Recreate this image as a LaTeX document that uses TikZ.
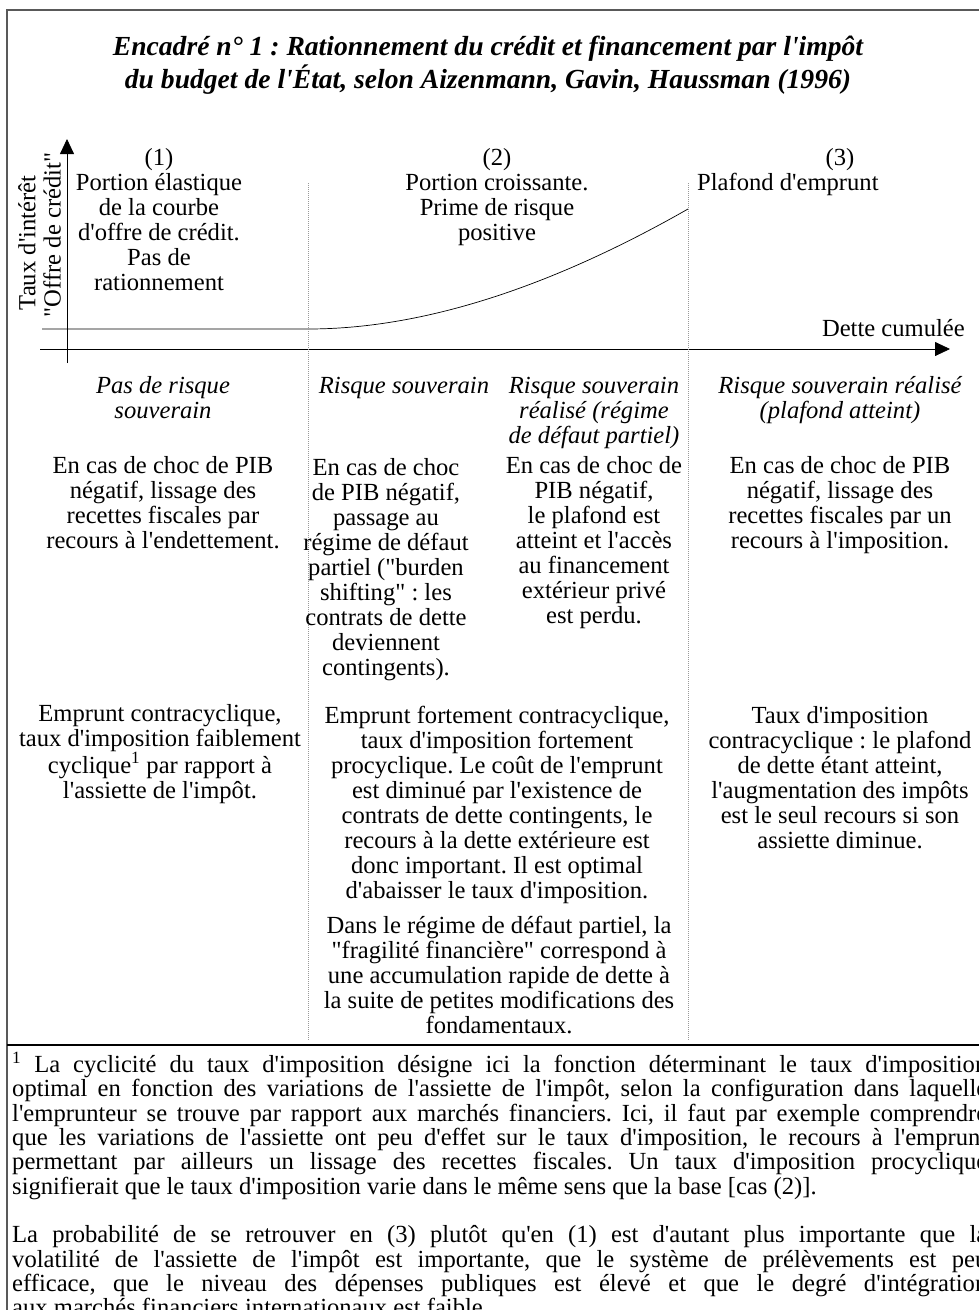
\documentclass[tikz,border=0pt]{standalone}
\usepackage{fontspec}
\setmainfont{Liberation Serif}[Ligatures={TeXOff,CommonOff}]
\usetikzlibrary{arrows.meta}
\begin{document}
\frenchspacing
\begin{tikzpicture}[x=1pt,y=-1pt,
  txt/.style={align=center,inner sep=0pt,anchor=base,font=\fontsize{24.6}{25}\selectfont\frenchspacing},
  itxt/.style={align=center,inner sep=0pt,anchor=base,font=\fontsize{24.6}{25}\selectfont\itshape},
  ttl/.style={align=center,inner sep=0pt,anchor=base,font=\fontsize{27.6}{32.5}\selectfont\bfseries\itshape},
  rot/.style={inner sep=0pt,rotate=90,font=\fontsize{24.6}{25}\selectfont},
  sepline/.style={gray!80,line width=0.8pt,dash pattern=on 1pt off 1pt},
  axis/.style={line width=0.8pt,-{Triangle[length=15pt,width=14pt]}},
  frame/.style={line width=1.5pt,gray!70!black},
]
\useasboundingbox[fill=white] (0,0) rectangle (978,1310);
% frame
\draw[frame] (7,1320) -- (7,10) -- (995,10);
\draw[line width=1.3pt] (7,1045) -- (990,1045);

% title (anchor = baseline of last line)
\node[ttl] (title) at (488,88) {Encadré n° 1 : Rationnement du crédit et financement par l'impôt\\du budget de l'État, selon Aizenmann, Gavin, Haussman (1996)};

% axes
\coordinate (yb) at (67,363);
\coordinate (yt) at (67,139);
\coordinate (xl) at (40,349);
\coordinate (xr) at (950,349);
\draw[axis] (yb) -- (yt);
\draw[axis] (xl) -- (xr);
\node[rot] (ylab1) at (27,243) {Taux d'intérêt};
\node[rot] (ylab2) at (52,235) {"Offre de crédit"};
\node[txt,anchor=base east] (xlab) at (965,336) {Dette cumulée};

% curve
\coordinate (c0) at (42,329);
\coordinate (c1) at (308,329);
\coordinate (c2) at (688,209);
\draw[line width=0.7pt] (c0) -- (c1) .. controls (430,329) and (560,282) .. (c2);

% dotted separators
\coordinate (d1t) at (308,183);
\coordinate (d1b) at (308,1040);
\coordinate (d2t) at (688,183);
\coordinate (d2b) at (688,1040);
\draw[sepline] (d1t) -- (d1b);
\draw[sepline] (d2t) -- (d2b);

% top texts
\node[txt] (p1) at (159,290) {(1)\\Portion élastique\\de la courbe\\d'offre de crédit.\\Pas de\\rationnement};
\node[txt] (p2) at (497,240) {(2)\\Portion croissante.\\Prime de risque\\positive};
\node[txt] (p3) at (840,165) {(3)};
\node[txt,anchor=base west] (p3b) at (697,190) {Plafond d'emprunt};

% italic headers
\node[itxt] (h1) at (163,418) {Pas de risque\\souverain};
\node[itxt] (h2) at (404,393) {Risque souverain};
\node[itxt] (h3) at (594,443) {Risque souverain\\réalisé (régime\\de défaut partiel)};
\node[itxt] (h4) at (840,418) {Risque souverain réalisé\\(plafond atteint)};

% situation texts
\node[txt] (b1) at (163,548) {En cas de choc de PIB\\négatif, lissage des\\recettes fiscales par\\recours à l'endettement.};
\node[txt] (b2) at (386,675) {En cas de choc\\de PIB négatif,\\passage au\\régime de défaut\\partiel ("burden\\shifting" : les\\contrats de dette\\deviennent\\contingents).};
\node[txt] (b3) at (594,623) {En cas de choc de\\PIB négatif,\\le plafond est\\atteint et l'accès\\au financement\\extérieur privé\\est perdu.};
\node[txt] (b4) at (840,548) {En cas de choc de PIB\\négatif, lissage des\\recettes fiscales par un\\recours à l'imposition.};

% policy texts
\node[txt] (l1) at (160,798) {Emprunt contracyclique,\\taux d'imposition faiblement\\cyclique\textsuperscript{1} par rapport à\\l'assiette de l'impôt.};
\node[txt] (l2) at (497,898) {Emprunt fortement contracyclique,\\taux d'imposition fortement\\procyclique. Le coût de l'emprunt\\est diminué par l'existence de\\contrats de dette contingents, le\\recours à la dette extérieure est\\donc important. Il est optimal\\d'abaisser le taux d'imposition.};
\node[txt] (l3) at (499,1033) {Dans le régime de défaut partiel, la\\"fragilité financière" correspond à\\une accumulation rapide de dette à\\la suite de petites modifications des\\fondamentaux.};
\node[txt] (l4) at (840,848) {Taux d'imposition\\contracyclique : le plafond\\de dette étant atteint,\\l'augmentation des impôts\\est le seul recours si son\\assiette diminue.};

% footnote
\node[anchor=north west,inner sep=0pt,text width=975pt,align=justify,font=\fontsize{24.6}{24.3}\selectfont\frenchspacing] (fn) at (12,1052) {\hyphenpenalty=10000 \textsuperscript{1} La cyclicité du taux d'imposition désigne ici la fonction déterminant le taux d'imposition\linebreak optimal en fonction des variations de l'assiette de l'impôt, selon la configuration dans laquelle\linebreak l'emprunteur se trouve par rapport aux marchés financiers. Ici, il faut par exemple comprendre\linebreak que les variations de l'assiette ont peu d'effet sur le taux d'imposition, le recours à l'emprunt\linebreak permettant par ailleurs un lissage des recettes fiscales. Un taux d'imposition procyclique\linebreak signifierait que le taux d'imposition varie dans le même sens que la base [cas (2)].\par\vspace{24.5pt}
La probabilité de se retrouver en (3) plutôt qu'en (1) est d'autant plus importante que la\linebreak volatilité de l'assiette de l'impôt est importante, que le système de prélèvements est peu\linebreak efficace, que le niveau des dépenses publiques est élevé et que le degré d'intégration\linebreak aux marchés financiers internationaux est faible.};
\end{tikzpicture}
\end{document}
